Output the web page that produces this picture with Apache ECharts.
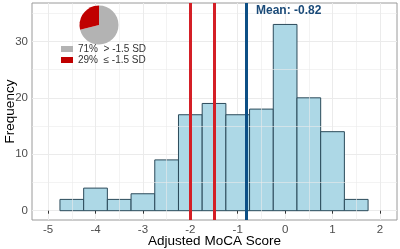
<!DOCTYPE html>
<html>
<head>
<meta charset="utf-8">
<script src="https://cdn.jsdelivr.net/npm/echarts@6/dist/echarts.min.js"></script>
<style>
  html, body { margin: 0; padding: 0; background: #fff; }
  #chart { width: 400px; height: 249px; }
</style>
</head>
<body>
<div id="chart"></div>
<script>
// histogram bins (bin width 0.5)
const binStarts = [-4.75, -4.25, -3.75, -3.25, -2.75, -2.25, -1.75, -1.25, -0.75, -0.25, 0.25, 0.75, 1.25];
const binCounts = [2, 4, 2, 3, 9, 17, 19, 17, 18, 33, 20, 14, 2];
const binWidth = 0.5;

const xTicks = [-5, -4, -3, -2, -1, 0, 1, 2];
const xMinor = [-4.5, -3.5, -2.5, -1.5, -0.5, 0.5, 1.5];
const yTicks = [0, 10, 20, 30];
const yMinor = [5, 15, 25, 35];

const cutoffs = [-2, -1.5];
const meanScore = -0.82;

const pieNames = ['71%  > -1.5 SD', '29%  \u2264 -1.5 SD'];
const pieValues = [71, 29];

const FONT = '"Liberation Sans", Arial, sans-serif';
const GRID_COLOR = '#ebebeb';

const chart = echarts.init(document.getElementById('chart'));

const histData = binStarts.map((s, i) => [s, s + binWidth, binCounts[i]]);

const gridMarks = xMinor.map((v) => ({ xAxis: v }))
  .concat(yMinor.map((v) => ({ yAxis: v })));

chart.setOption({
  animation: false,
  textStyle: { fontFamily: FONT },
  grid: {
    left: 32, right: 3, top: 3, bottom: 29,
    containLabel: false,
    outerBoundsMode: 'none',
    show: true,
    borderColor: '#9a9a9a',
    borderWidth: 1,
    backgroundColor: '#fff',
  },
  legend: {
    orient: 'vertical',
    left: 61,
    top: 44,
    padding: 0,
    itemWidth: 12,
    itemHeight: 6,
    itemGap: 1,
    icon: 'rect',
    selectedMode: false,
    z: 10,
    textStyle: { fontSize: 10, color: '#333', fontFamily: FONT },
    data: pieNames,
  },
  xAxis: {
    type: 'value',
    min: -5.34,
    max: 2.36,
    name: 'Adjusted MoCA Score',
    nameLocation: 'middle',
    nameGap: 14,
    nameMoveOverlap: false,
    nameTextStyle: { fontSize: 13.5, color: '#000' },
    axisLine: { show: false },
    axisTick: { show: true, length: 3, lineStyle: { color: '#333' }, customValues: xTicks },
    axisLabel: { fontSize: 11.5, color: '#4d4d4d', margin: 4, customValues: xTicks },
    splitLine: { show: true, lineStyle: { color: GRID_COLOR, width: 1 } },
  },
  yAxis: {
    type: 'value',
    min: -1.65,
    max: 36.8,
    name: 'Frequency',
    nameLocation: 'middle',
    nameGap: 15,
    nameMoveOverlap: false,
    nameTextStyle: { fontSize: 13.5, color: '#000' },
    axisLine: { show: false },
    axisTick: { show: true, length: 3, lineStyle: { color: '#333' }, customValues: yTicks },
    axisLabel: { fontSize: 11.5, color: '#4d4d4d', margin: 4, customValues: yTicks },
    splitLine: { show: true, lineStyle: { color: GRID_COLOR, width: 1 } },
  },
  graphic: [
    {
      type: 'text',
      left: 256,
      top: 5,
      z: 20,
      style: {
        text: 'Mean: ' + meanScore.toFixed(2),
        fill: '#1a4a78',
        font: 'bold 12px ' + FONT,
      },
    },
  ],
  series: [
    {
      type: 'custom',
      name: 'grid',
      data: [],
      renderItem: () => null,
      silent: true,
      z: 1,
      markLine: {
        silent: true,
        symbol: ['none', 'none'],
        label: { show: false },
        lineStyle: { color: GRID_COLOR, width: 0.6, type: 'solid' },
        data: gridMarks,
      },
    },
    {
      type: 'custom',
      name: 'hist',
      z: 2,
      encode: { x: [0, 1], y: 2 },
      data: histData,
      renderItem: (params, api) => {
        const p0 = api.coord([api.value(0), api.value(2)]);
        const p1 = api.coord([api.value(1), 0]);
        return {
          type: 'rect',
          shape: { x: p0[0], y: p0[1], width: p1[0] - p0[0], height: p1[1] - p0[1] },
          style: { fill: '#add8e6', stroke: '#2b4a5a', lineWidth: 1 },
        };
      },
      markLine: {
        silent: true,
        symbol: ['none', 'none'],
        label: { show: false },
        data: cutoffs.map((v) => ({ xAxis: v, lineStyle: { color: '#d41f26', width: 3, type: 'solid' } }))
          .concat([{ xAxis: meanScore, lineStyle: { color: '#0d4f85', width: 3, type: 'solid' } }]),
      },
    },
    {
      type: 'pie',
      center: [99, 25],
      radius: 19.5,
      startAngle: 90,
      clockwise: true,
      label: { show: false },
      labelLine: { show: false },
      silent: true,
      z: 5,
      data: pieNames.map((n, i) => ({
        name: n,
        value: pieValues[i],
        itemStyle: { color: i === 0 ? '#b3b3b3' : '#c00000' },
      })),
    },
  ],
});
</script>
</body>
</html>
